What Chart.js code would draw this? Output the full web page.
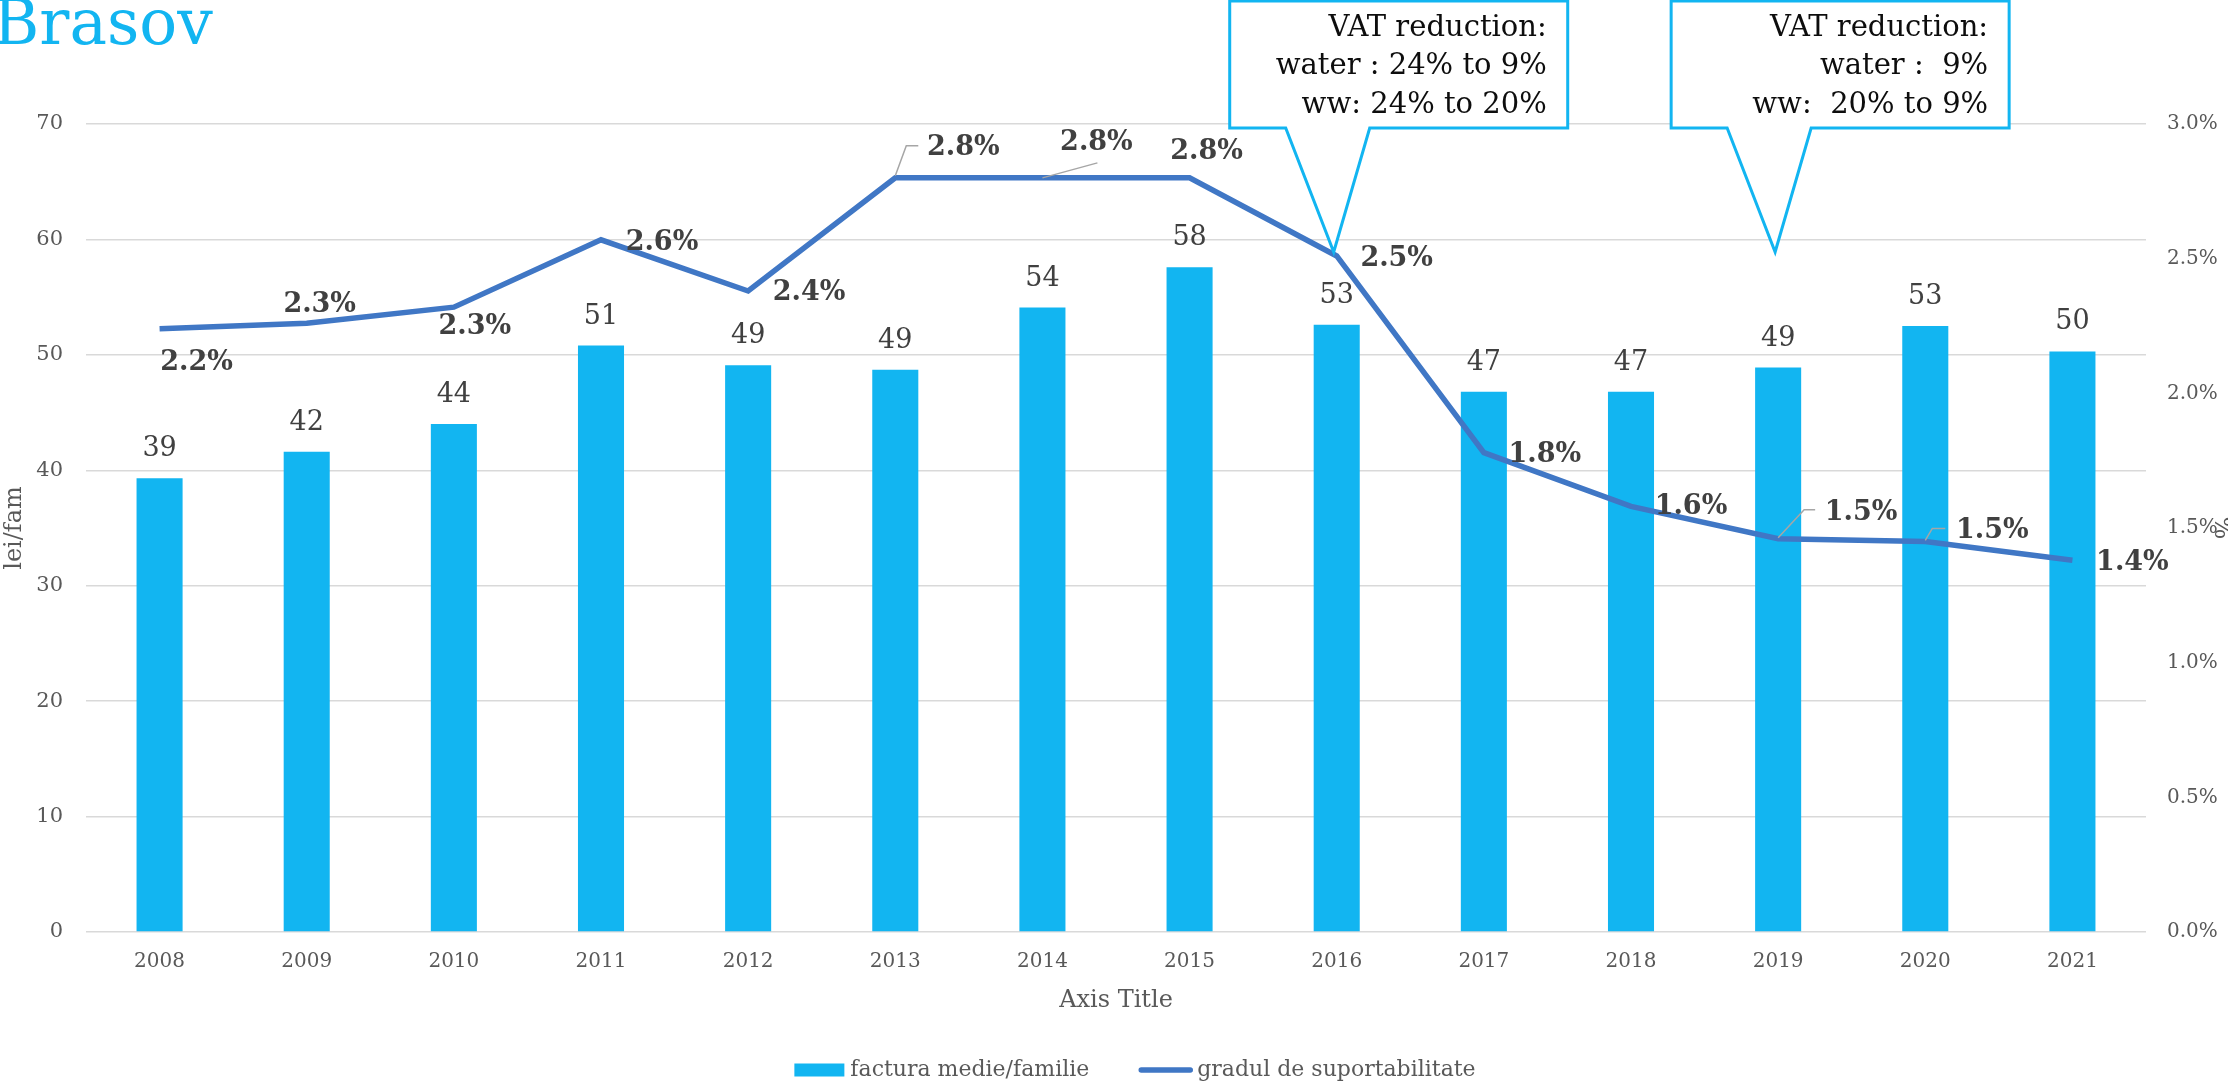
<!DOCTYPE html>
<html>
<head>
<meta charset="utf-8">
<script src="https://cdn.jsdelivr.net/npm/chart.js@4.4.1/dist/chart.umd.min.js"></script>
<style>
  html, body { margin: 0; padding: 0; background: #fff; }
  #wrap { width: 2228px; height: 1084px; }
</style>
</head>
<body>
<div id="wrap"><canvas id="chart" width="2228" height="1084"></canvas></div>
<script>
const years = ['2008', '2009', '2010', '2011', '2012', '2013', '2014', '2015', '2016', '2017', '2018', '2019', '2020', '2021'];
const facturaMedie = [39.3, 41.6, 44.0, 50.8, 49.1, 48.7, 54.1, 57.6, 52.6, 46.8, 46.8, 48.9, 52.5, 50.3];
const gradSuport = [2.24, 2.26, 2.32, 2.57, 2.38, 2.80, 2.80, 2.80, 2.51, 1.78, 1.58, 1.46, 1.45, 1.38];
const gradLabels = ['2.2%', '2.3%', '2.3%', '2.6%', '2.4%', '2.8%', '2.8%', '2.8%', '2.5%', '1.8%', '1.6%', '1.5%', '1.5%', '1.4%'];
const leftTicks = [0, 10, 20, 30, 40, 50, 60, 70];
const rightTicks = [0, 0.5, 1, 1.5, 2, 2.5, 3];
const callouts = [
    { index: 8, lines: ['VAT reduction:', 'water : 24% to 9%', 'ww: 24% to 20%'] },
    { index: 11, lines: ['VAT reduction:', 'water :  9%', 'ww:  20% to 9%'] }
];

const FONT = "'DejaVu Serif', 'Liberation Serif', serif";
const BAR_COLOR = '#12B5F1';
const LINE_COLOR = '#4077C5';

// where each percent label sits relative to its point (px), plus optional leader line
const pctPlacement = [
    { dx: 37, dy: 34 }, { dx: 13, dy: -18 }, { dx: 21, dy: 20 }, { dx: 61, dy: 3 },
    { dx: 61, dy: 2 },
    { dx: 68, dy: -30, leader: [[0, -2], [11, -32], [23, -32]] },
    { dx: 54, dy: -35, leader: [[0, 0], [55, -15]] },
    { dx: 17, dy: -26 }, { dx: 60, dy: 3 }, { dx: 61, dy: 2 }, { dx: 60, dy: 1 },
    { dx: 83, dy: -26, leader: [[0, -1], [26, -29], [37, -29]] },
    { dx: 67, dy: -10, leader: [[0, -1], [7, -13], [20, -13]] },
    { dx: 60, dy: 3 }
];

const labelsPlugin = {
    id: 'labels',
    afterDatasetsDraw(chart) {
        const ctx = chart.ctx;
        const x = chart.scales.x, y = chart.scales.y, y1 = chart.scales.y1;
        ctx.save();

        // bar values
        ctx.font = '27px ' + FONT;
        ctx.fillStyle = '#404040';
        ctx.textAlign = 'center';
        ctx.textBaseline = 'middle';
        facturaMedie.forEach((v, i) => {
            ctx.fillText(Math.round(v), x.getPixelForValue(i), y.getPixelForValue(v) - 29);
        });

        // leader lines
        ctx.strokeStyle = '#a6a6a6';
        ctx.lineWidth = 1.5;
        gradSuport.forEach((v, i) => {
            const p = pctPlacement[i];
            if (!p.leader) return;
            const px = x.getPixelForValue(i), py = y1.getPixelForValue(v);
            ctx.beginPath();
            p.leader.forEach((pt, k) => {
                if (k === 0) ctx.moveTo(px + pt[0], py + pt[1]);
                else ctx.lineTo(px + pt[0], py + pt[1]);
            });
            ctx.stroke();
        });

        // percent labels
        ctx.font = 'bold 27px ' + FONT;
        ctx.fillStyle = '#404040';
        gradSuport.forEach((v, i) => {
            const p = pctPlacement[i];
            ctx.fillText(gradLabels[i], x.getPixelForValue(i) + p.dx, y1.getPixelForValue(v) + p.dy);
        });
        ctx.restore();
    },
    afterDraw(chart) {
        const ctx = chart.ctx;
        const x = chart.scales.x;
        ctx.save();

        // title
        ctx.font = '63px ' + FONT;
        ctx.fillStyle = '#12B5F1';
        ctx.textAlign = 'left';
        ctx.textBaseline = 'alphabetic';
        ctx.fillText('Brasov', -7, 44);

        // callouts
        callouts.forEach(c => {
            const tx = x.getPixelForValue(c.index) - 3, ty = 252;
            const l = tx - 104, r = tx + 234, t = 1, b = 128;
            ctx.beginPath();
            ctx.moveTo(l, t);
            ctx.lineTo(r, t);
            ctx.lineTo(r, b);
            ctx.lineTo(tx + 36, b);
            ctx.lineTo(tx, ty);
            ctx.lineTo(tx - 48, b);
            ctx.lineTo(l, b);
            ctx.closePath();
            ctx.fillStyle = '#fff';
            ctx.fill();
            ctx.strokeStyle = '#12B5F1';
            ctx.lineWidth = 3;
            ctx.stroke();
            ctx.font = '29px ' + FONT;
            ctx.fillStyle = '#0d0d0d';
            ctx.textAlign = 'right';
            ctx.textBaseline = 'middle';
            c.lines.forEach((s, k) => ctx.fillText(s, r - 21, 28 + k * 38.5));
        });

        // legend
        ctx.font = '22px ' + FONT;
        ctx.textBaseline = 'middle';
        ctx.textAlign = 'left';
        const t1 = chart.data.datasets[0].label, t2 = chart.data.datasets[1].label;
        const w1 = ctx.measureText(t1).width, w2 = ctx.measureText(t2).width;
        const total = 50 + 6 + w1 + 49 + 55 + 4 + w2;
        let lx = 1135 - total / 2;
        const ly = 1070;
        ctx.fillStyle = BAR_COLOR;
        ctx.fillRect(lx, ly - 6.5, 50, 13);
        lx += 56;
        ctx.fillStyle = '#595959';
        ctx.fillText(t1, lx, ly);
        lx += w1 + 49;
        ctx.strokeStyle = LINE_COLOR;
        ctx.lineWidth = 5.5;
        ctx.lineCap = 'round';
        ctx.beginPath();
        ctx.moveTo(lx + 3, ly);
        ctx.lineTo(lx + 52, ly);
        ctx.stroke();
        lx += 59;
        ctx.fillText(t2, lx, ly);
        ctx.restore();
    }
};

new Chart(document.getElementById('chart'), {
    type: 'bar',
    data: {
        labels: years,
        datasets: [
            {
                type: 'bar',
                label: 'factura medie/familie',
                data: facturaMedie,
                backgroundColor: BAR_COLOR,
                barPercentage: 0.313,
                categoryPercentage: 1,
                yAxisID: 'y',
                order: 2
            },
            {
                type: 'line',
                label: 'gradul de suportabilitate',
                data: gradSuport,
                borderColor: LINE_COLOR,
                borderWidth: 5.5,
                pointRadius: 0,
                tension: 0,
                yAxisID: 'y1',
                order: 1
            }
        ]
    },
    options: {
        responsive: false,
        animation: false,
        devicePixelRatio: 1,
        layout: { padding: { top: 124, left: 0, right: 0, bottom: 0 } },
        plugins: {
            legend: { display: false },
            tooltip: { enabled: false }
        },
        scales: {
            x: {
                grid: { display: false, drawTicks: false },
                border: { display: false },
                ticks: { color: '#595959', font: { family: FONT, size: 20 }, padding: 18 },
                title: { display: true, text: 'Axis Title', color: '#595959', font: { family: FONT, size: 24 }, padding: { top: 0, bottom: 69 } },
                afterFit(scale) { scale.height = 152; }
            },
            y: {
                position: 'left',
                min: 0,
                max: 70,
                afterBuildTicks(scale) { scale.ticks = leftTicks.map(v => ({ value: v })); },
                grid: { color: '#d9d9d9', lineWidth: 1.5, drawTicks: false },
                border: { display: false },
                ticks: { color: '#595959', font: { family: FONT, size: 21 }, padding: 23 },
                title: { display: true, text: 'lei/fam', color: '#595959', font: { family: FONT, size: 24 }, padding: { top: 0, bottom: 0 } },
                afterFit(scale) { scale.width = 86; }
            },
            y1: {
                position: 'right',
                min: 0,
                max: 3,
                afterBuildTicks(scale) { scale.ticks = rightTicks.map(v => ({ value: v })); },
                grid: { display: false, drawTicks: false },
                border: { display: false },
                ticks: {
                    color: '#595959',
                    font: { family: FONT, size: 20 },
                    padding: 21,
                    callback: v => v.toFixed(1) + '%'
                },
                title: { display: true, text: '%', color: '#595959', font: { family: FONT, size: 24 }, padding: { top: -8, bottom: 0 } },
                afterFit(scale) { scale.width = 82; }
            }
        }
    },
    plugins: [labelsPlugin]
});
</script>
</body>
</html>
